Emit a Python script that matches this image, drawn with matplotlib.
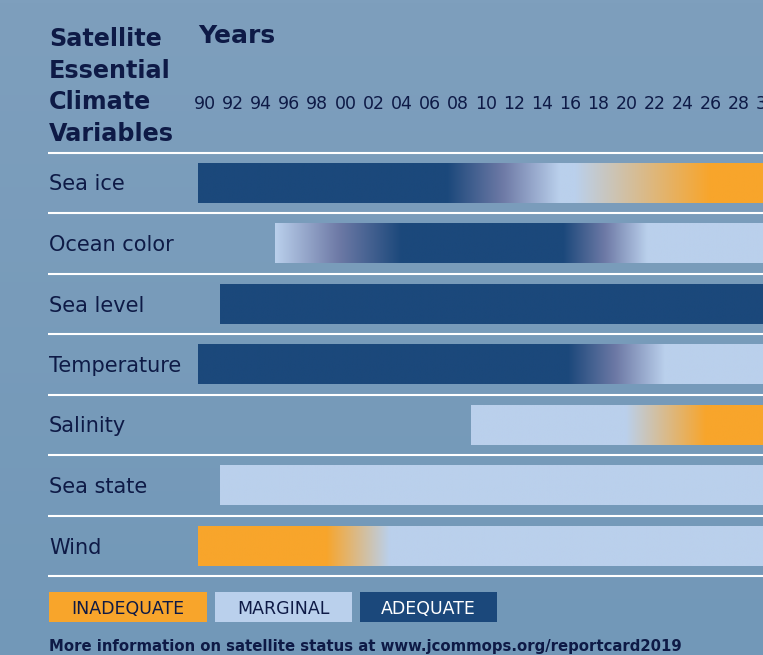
import numpy as np
import matplotlib
matplotlib.use("Agg")
import matplotlib.pyplot as plt
from matplotlib.patches import Rectangle

# data
variables = ["Sea ice", "Ocean color", "Sea level", "Temperature",
             "Salinity", "Sea state", "Wind"]
# status keypoints per variable: (year, status); A adequate, M marginal, I inadequate
sea_ice = [(1989.5, "A"), (2007.2, "A"), (2015.2, "M"), (2016.3, "M"), (2025.9, "I"), (2030.5, "I")]
ocean_color = [(1995.0, "M"), (2004.0, "A"), (2015.5, "A"), (2021.5, "M"), (2030.5, "M")]
sea_level = [(1991.1, "A"), (2030.5, "A")]
temperature = [(1989.5, "A"), (2015.8, "A"), (2022.7, "M"), (2030.5, "M")]
salinity = [(2008.9, "M"), (2019.9, "M"), (2025.6, "I"), (2030.5, "I")]
sea_state = [(1991.1, "M"), (2030.5, "M")]
wind = [(1989.5, "I"), (1998.6, "I"), (2003.1, "M"), (2030.5, "M")]
status = [sea_ice, ocean_color, sea_level, temperature, salinity, sea_state, wind]

years = list(range(1990, 2031, 2))
year_labels = ["%02d" % (y % 100) for y in years]

legend_labels = ["INADEQUATE", "MARGINAL", "ADEQUATE"]

# styling
W, H = 763, 655
NAVY = "#0e1a46"
colors = {"I": np.array([248, 165, 43]) / 255,
          "M": np.array([186, 208, 236]) / 255,
          "A": np.array([27, 72, 123]) / 255}
purple_mid = np.array([110, 122, 166]) / 255

# pixel mapping
X1990, PPY = 205.0, 14.05
ROW0, PITCH = 183.0, 60.5


def fx(px):
    return px / W


def fy(py):
    return 1 - py / H


def mix(a, b, t):
    ca, cb = colors[a], colors[b]
    if {a, b} == {"A", "M"}:
        # dark/light blend runs through a purplish middle
        if t < 0.5:
            return ca + (purple_mid - ca) * (t / 0.5)
        return purple_mid + (cb - purple_mid) * ((t - 0.5) / 0.5)
    return ca + (cb - ca) * t


def bar_image(stops, n=800):
    xs = np.linspace(stops[0][0], stops[-1][0], n)
    img = np.zeros((1, n, 3))
    for k, x in enumerate(xs):
        for (x0, s0), (x1, s1) in zip(stops[:-1], stops[1:]):
            if x0 <= x <= x1:
                t = 0 if x1 == x0 else (x - x0) / (x1 - x0)
                img[0, k] = mix(s0, s1, t)
                break
    return img


fig = plt.figure(figsize=(W / 100, H / 100), dpi=100)
ax = fig.add_axes([0, 0, 1, 1])
ax.set_axis_off()

xlim = (1990 - X1990 / PPY, 1990 + (W - X1990) / PPY)
ylim = ((H - ROW0) / PITCH, -ROW0 / PITCH)

# background
top = np.array([126, 159, 189]) / 255
bot = np.array([114, 152, 184]) / 255
g = np.linspace(0, 1, 200)[:, None, None]
bg = top + (bot - top) * g
bg = np.repeat(bg, 2, axis=1)
ax.imshow(bg, extent=[xlim[0], xlim[1], ylim[0], ylim[1]], aspect="auto",
          origin="upper", zorder=0)

# bars
bh = 0.33
for i, stops in enumerate(status):
    ax.imshow(bar_image(stops), extent=[stops[0][0], stops[-1][0], i + bh, i - bh],
              aspect="auto", interpolation="bilinear", zorder=2)
    ax.text(xlim[0] + 49 / PPY, i + 7.5 / PITCH, variables[i], fontsize=15,
            color=NAVY, va="baseline", ha="left", zorder=3)

# separators
for k in range(len(variables) + 1):
    ax.plot([xlim[0] + 48 / PPY, xlim[1]], [k - 0.5, k - 0.5], color="white",
            lw=1.5, zorder=1, solid_capstyle="butt")

# year labels
for y, lab in zip(years, year_labels):
    ax.text(y, (109 - ROW0) / PITCH, lab, fontsize=12.5, color=NAVY,
            ha="center", va="baseline", zorder=3)

ax.set_xlim(*xlim)
ax.set_ylim(*ylim)

# headers
for j, line in enumerate(["Satellite", "Essential", "Climate", "Variables"]):
    fig.text(fx(49), fy(46 + 31.7 * j), line, fontsize=17.2, fontweight="bold",
             color=NAVY, va="baseline", ha="left")
fig.text(fx(198), fy(43), "Years", fontsize=18, fontweight="bold",
         color=NAVY, va="baseline", ha="left")

# legend
boxes = [(48.5, 207), (215, 352), (360, 497)]
box_colors = [colors["I"], colors["M"], colors["A"]]
text_colors = [NAVY, NAVY, "white"]
for (x0, x1), lab, c, tc in zip(boxes, legend_labels, box_colors, text_colors):
    fig.add_artist(Rectangle((fx(x0), fy(622)), fx(x1 - x0), 30 / H,
                             transform=fig.transFigure, facecolor=c,
                             edgecolor="none"))
    fig.text(fx((x0 + x1) / 2), fy(613.5), lab, fontsize=12.5, color=tc,
             ha="center", va="baseline")

fig.text(fx(49), fy(651), "More information on satellite status at www.jcommops.org/reportcard2019",
         fontsize=10.7, fontweight="semibold", color=NAVY, ha="left", va="baseline")

fig.savefig("out.png", dpi=100)
